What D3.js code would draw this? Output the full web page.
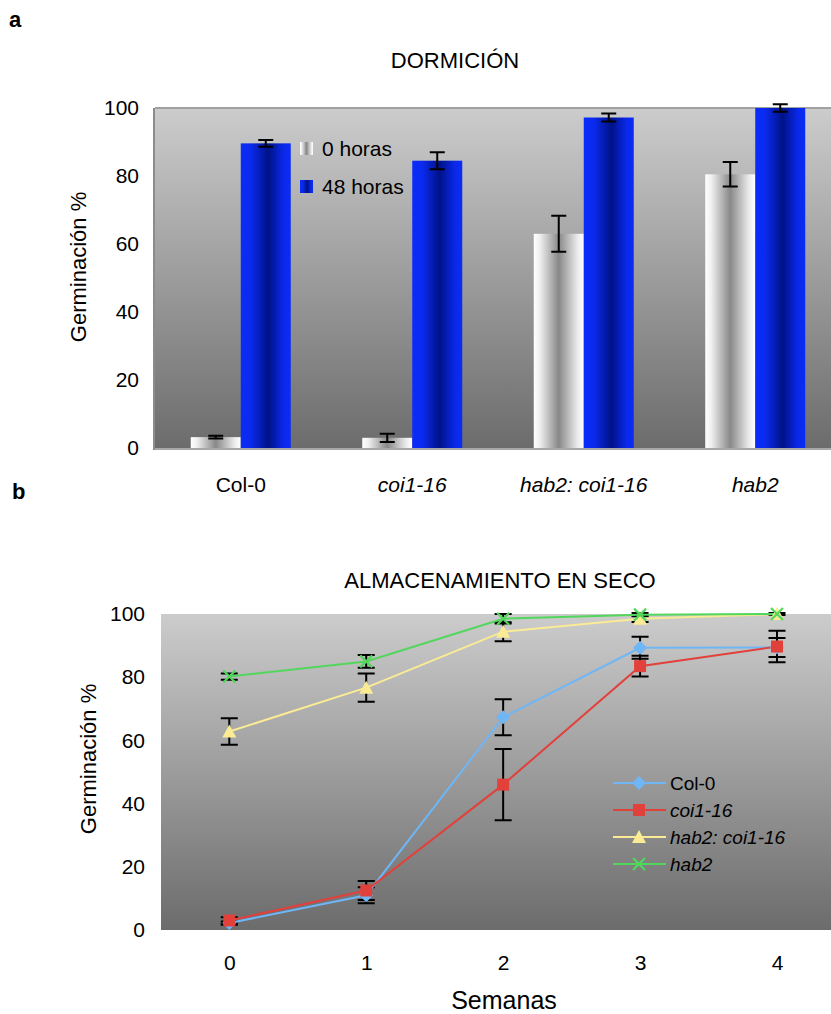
<!DOCTYPE html>
<html>
<head>
<meta charset="utf-8">
<script src="https://cdn.jsdelivr.net/npm/d3@7"></script>
<style>
  body { margin: 0; background: #fff; }
  svg { display: block; font-family: "Liberation Sans", Arial, sans-serif; }
</style>
</head>
<body>
<div id="chart"></div>
<script>
// ---- panel a: DORMICIÓN ----
const genotypes = ['Col-0', 'coi1-16', 'hab2: coi1-16', 'hab2'];
const italicGenotype = [false, true, true, true];
const germ0h = [3.2, 3, 63, 80.5];
const err0h = [0.4, 1.2, 5.3, 3.6];
const germ48h = [89.6, 84.5, 97.2, 100];
const err48h = [1, 2.5, 1.2, 1.1];
const seriesA = ['0 horas', '48 horas'];
const ticksA = [0, 20, 40, 60, 80, 100];

// ---- panel b: ALMACENAMIENTO EN SECO ----
const weeks = [0, 1, 2, 3, 4];
const col0 = [2.2, 11, 67.3, 89.3, 89.4];
const col0Err = [0.5, 2.5, 5.7, 3.5, 3];
const coi116 = [3, 12.5, 46, 83.5, 89.7];
const coi116Err = [1, 3, 11.3, 3.3, 5];
const hab2coi = [62.8, 76.7, 94.4, 98.5, 100];
const hab2coiErr = [4.2, 4.5, 3, 1, 0];
const hab2 = [80.2, 85, 98.5, 99.8, 100];
const hab2Err = [1, 2, 1.5, 0.5, 0.3];
const ticksB = [0, 20, 40, 60, 80, 100];

const W = 831, H = 1014;
const svg = d3.select('#chart').append('svg').attr('width', W).attr('height', H);
const defs = svg.append('defs');

function vGrad(id) {
  const g = defs.append('linearGradient').attr('id', id).attr('x1', 0).attr('y1', 0).attr('x2', 0).attr('y2', 1);
  g.append('stop').attr('offset', '0%').attr('stop-color', '#cccccc');
  g.append('stop').attr('offset', '100%').attr('stop-color', '#6c6c6c');
}
vGrad('bgA');
vGrad('bgB');

const gWhite = defs.append('linearGradient').attr('id', 'barWhite').attr('x1', 0).attr('x2', 1).attr('y1', 0).attr('y2', 0);
gWhite.append('stop').attr('offset', '0%').attr('stop-color', '#ffffff');
gWhite.append('stop').attr('offset', '12%').attr('stop-color', '#f0f0f0');
gWhite.append('stop').attr('offset', '50%').attr('stop-color', '#888888');
gWhite.append('stop').attr('offset', '88%').attr('stop-color', '#ececec');
gWhite.append('stop').attr('offset', '100%').attr('stop-color', '#ffffff');

const gBlue = defs.append('linearGradient').attr('id', 'barBlue').attr('x1', 0).attr('x2', 1).attr('y1', 0).attr('y2', 0);
gBlue.append('stop').attr('offset', '0%').attr('stop-color', '#0a2cf8');
gBlue.append('stop').attr('offset', '20%').attr('stop-color', '#0a2aee');
gBlue.append('stop').attr('offset', '55%').attr('stop-color', '#001287');
gBlue.append('stop').attr('offset', '85%').attr('stop-color', '#0a28e8');
gBlue.append('stop').attr('offset', '100%').attr('stop-color', '#0a2cf8');

// panel letters
svg.append('text').attr('x', 9).attr('y', 27).attr('font-size', 22).attr('font-weight', 'bold').text('a');
svg.append('text').attr('x', 12).attr('y', 499).attr('font-size', 22).attr('font-weight', 'bold').text('b');

// ================= panel a =================
const leftA = 155, rightA = 841, topA = 108, botA = 448;
const x0 = d3.scaleBand().domain(genotypes).range([leftA, rightA]).paddingInner(0.4169).paddingOuter(0.2085);
const x1 = d3.scaleBand().domain(seriesA).range([0, x0.bandwidth()]);
const yA = d3.scaleLinear().domain([0, 100]).range([botA, topA]);

svg.append('text').attr('x', 455).attr('y', 68).attr('text-anchor', 'middle').attr('font-size', 22).text('DORMICIÓN');

svg.append('rect').attr('x', leftA).attr('y', topA).attr('width', rightA - leftA).attr('height', botA - topA)
  .attr('fill', 'url(#bgA)');
svg.append('line').attr('x1', leftA).attr('x2', rightA).attr('y1', topA).attr('y2', topA).attr('stroke', '#a0a0a0').attr('stroke-width', 2);
svg.append('line').attr('x1', leftA).attr('x2', rightA).attr('y1', botA + 1).attr('y2', botA + 1).attr('stroke', '#a8a8a8').attr('stroke-width', 2);
svg.append('line').attr('x1', leftA - 1).attr('x2', leftA - 1).attr('y1', topA).attr('y2', botA + 2).attr('stroke', '#8c8c8c').attr('stroke-width', 2);

const barRows = genotypes.map((g, i) => [
  { g, s: seriesA[0], v: germ0h[i], e: err0h[i], fill: 'url(#barWhite)' },
  { g, s: seriesA[1], v: germ48h[i], e: err48h[i], fill: 'url(#barBlue)' }
]).flat();

svg.append('g').selectAll('rect').data(barRows).join('rect')
  .attr('x', d => x0(d.g) + x1(d.s))
  .attr('y', d => yA(d.v))
  .attr('width', x1.bandwidth())
  .attr('height', d => yA(0) - yA(d.v))
  .attr('fill', d => d.fill);

function errorBars(g, rows, cx, y, cap) {
  const eb = g.append('g').attr('stroke', '#000').attr('stroke-width', 2).attr('fill', 'none');
  rows.forEach(d => {
    if (!d.e) return;
    const x = cx(d), yt = y(d.v + d.e), yb = y(d.v - d.e);
    eb.append('path').attr('d', `M${x},${yt}V${yb}M${x - cap / 2},${yt}H${x + cap / 2}M${x - cap / 2},${yb}H${x + cap / 2}`);
  });
}
errorBars(svg, barRows, d => x0(d.g) + x1(d.s) + x1.bandwidth() / 2, yA, 15);

const axA = svg.append('g').attr('transform', `translate(${leftA},0)`)
  .call(d3.axisLeft(yA).tickValues(ticksA).tickSize(0).tickPadding(16));
axA.select('.domain').remove();
axA.selectAll('text').attr('font-size', 21).attr('font-family', '"Liberation Sans", Arial, sans-serif').attr('fill', '#000');

svg.append('g').selectAll('text').data(genotypes).join('text')
  .attr('x', d => x0(d) + x0.bandwidth() / 2)
  .attr('y', 492)
  .attr('text-anchor', 'middle')
  .attr('font-size', 21)
  .attr('font-style', (d, i) => italicGenotype[i] ? 'italic' : 'normal')
  .text(d => d);

svg.append('text').attr('transform', 'translate(86,267) rotate(-90)').attr('text-anchor', 'middle')
  .attr('font-size', 22).text('Germinación %');

// legend a
const legA = svg.append('g');
seriesA.forEach((s, i) => {
  legA.append('rect').attr('x', 300).attr('y', 142 + i * 38).attr('width', 13).attr('height', 13)
    .attr('fill', i === 0 ? 'url(#barWhite)' : 'url(#barBlue)');
  legA.append('text').attr('x', 322).attr('y', 156 + i * 37.5).attr('font-size', 21).text(s);
});

// ================= panel b =================
const leftB = 161, rightB = 846, topB = 614, botB = 930;
const xB = d3.scalePoint().domain(weeks).range([229.3, 777]);
const yB = d3.scaleLinear().domain([0, 100]).range([botB, topB]);

svg.append('text').attr('x', 500).attr('y', 588).attr('text-anchor', 'middle').attr('font-size', 22)
  .text('ALMACENAMIENTO EN SECO');

svg.append('rect').attr('x', leftB).attr('y', topB).attr('width', rightB - leftB).attr('height', botB - topB)
  .attr('fill', 'url(#bgB)');

const seriesB = [
  { name: 'Col-0', italic: false, vals: col0, errs: col0Err, color: '#6fb6f6', marker: 'diamond' },
  { name: 'coi1-16', italic: true, vals: coi116, errs: coi116Err, color: '#e2413b', marker: 'square' },
  { name: 'hab2: coi1-16', italic: true, vals: hab2coi, errs: hab2coiErr, color: '#faeb94', marker: 'triangle' },
  { name: 'hab2', italic: true, vals: hab2, errs: hab2Err, color: '#52d75c', marker: 'x' }
];

const markerPath = {
  diamond: 'M0,-7L7,0L0,7L-7,0Z',
  square: 'M-6,-6H6V6H-6Z',
  triangle: 'M0,-7L7,6H-7Z',
  x: 'M-6,-6L6,6M-6,6L6,-6'
};
function drawMarker(g, type, color, x, y) {
  const p = g.append('path').attr('d', markerPath[type]).attr('transform', `translate(${x},${y})`);
  if (type === 'x') p.attr('fill', 'none').attr('stroke', color).attr('stroke-width', 2.2);
  else p.attr('fill', color);
}

const line = d3.line().x((d, i) => xB(weeks[i])).y(d => yB(d));

// error bars underneath
seriesB.forEach(s => {
  errorBars(svg, s.vals.map((v, i) => ({ v, e: s.errs[i], w: weeks[i] })), d => xB(d.w), yB, 17);
});
seriesB.forEach(s => {
  svg.append('path').datum(s.vals).attr('d', line).attr('fill', 'none').attr('stroke', s.color).attr('stroke-width', 2);
});
seriesB.forEach(s => {
  const g = svg.append('g');
  s.vals.forEach((v, i) => drawMarker(g, s.marker, s.color, xB(weeks[i]), yB(v)));
});

const axB = svg.append('g').attr('transform', `translate(${leftB},0)`)
  .call(d3.axisLeft(yB).tickValues(ticksB).tickSize(0).tickPadding(16));
axB.select('.domain').remove();
axB.selectAll('text').attr('font-size', 21).attr('font-family', '"Liberation Sans", Arial, sans-serif').attr('fill', '#000');

const axBx = svg.append('g').attr('transform', `translate(0,${botB})`)
  .call(d3.axisBottom(xB).tickSize(0).tickPadding(25));
axBx.select('.domain').remove();
axBx.selectAll('text').attr('font-size', 21).attr('font-family', '"Liberation Sans", Arial, sans-serif').attr('fill', '#000');

svg.append('text').attr('transform', 'translate(96,759) rotate(-90)').attr('text-anchor', 'middle')
  .attr('font-size', 22).text('Germinación %');
svg.append('text').attr('x', 504).attr('y', 1009).attr('text-anchor', 'middle').attr('font-size', 25).text('Semanas');

// legend b
const legB = svg.append('g');
seriesB.forEach((s, i) => {
  const y = 783 + i * 27;
  legB.append('line').attr('x1', 613).attr('x2', 666).attr('y1', y).attr('y2', y).attr('stroke', s.color).attr('stroke-width', 2);
  drawMarker(legB, s.marker, s.color, 639, y);
  legB.append('text').attr('x', 670).attr('y', y + 7).attr('font-size', 19)
    .attr('font-style', s.italic ? 'italic' : 'normal').text(s.name);
});
</script>
</body>
</html>
